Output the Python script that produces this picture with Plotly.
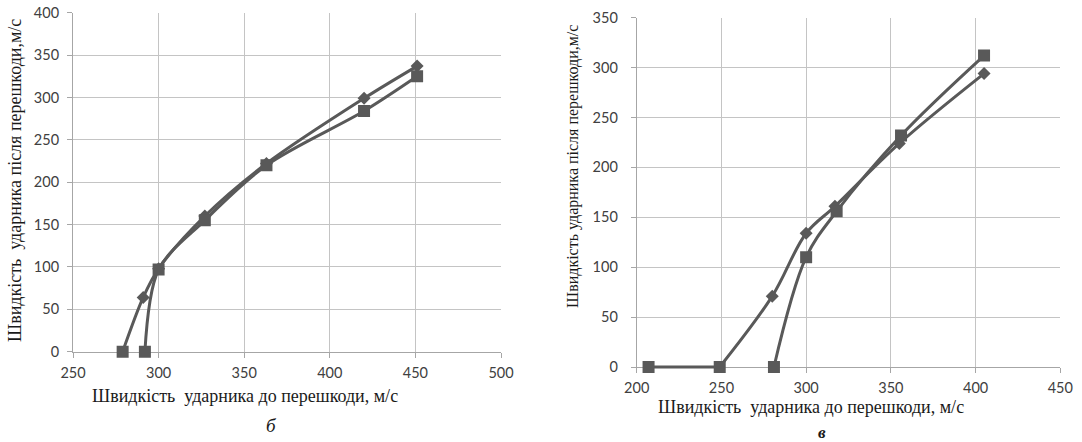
import plotly.graph_objects as go

W, H = 1082, 442

# ---- data: chart "б" (left) ----
b_diamond_x = [279, 291, 300, 327, 363, 420, 451]
b_diamond_y = [0, 64, 98, 160, 222, 299, 337]
b_square_x = [292, 300, 327, 363, 420, 451]
b_square_y = [0, 97, 155, 220, 284, 325]
b_xticks = [250, 300, 350, 400, 450, 500]
b_yticks = [0, 50, 100, 150, 200, 250, 300, 350, 400]

# ---- data: chart "в" (right) ----
v_diamond_x = [207, 249, 280, 300, 317, 355, 405]
v_diamond_y = [0, 0, 71, 134, 161, 224, 294]
v_square_x = [281, 300, 318, 356, 405]
v_square_y = [0, 110, 156, 232, 312]
v_xticks = [200, 250, 300, 350, 400, 450]
v_yticks = [0, 50, 100, 150, 200, 250, 300, 350]

x_title = "Швидкість  ударника до перешкоди, м/с"
y_title_b = "Швидкість  ударника після перешкоди,м/с"
y_title_v = "Швидкість ударника після перешкоди,м/с"

LINE = "#595959"
GRID = "#c4c4c4"
AXIS = "#a6a6a6"
TICKFONT = dict(family="Lato", size=14.5, color="#404040")
SERIF = "Liberation Serif"
EXT = 14  # px of extra drawing room below each plot so markers at 0 are not cut


def px_x(p):
    return p / W


def px_y(p):
    return 1 - p / H


# plot-area pixel boxes (left, right, top, bottom) and data ranges
B_BOX = (73, 501, 12.7, 351.7)
V_BOX = (636.7, 1060.3, 17.7, 367)
B_XR, B_YR = [250, 500], [0, 400]
V_XR, V_YR = [200, 450], [0, 350]

fig = go.Figure()

# empty traces so that the visible axes / grids of both panels are drawn
for xa, ya in (("x", "y"), ("x2", "y2")):
    fig.add_trace(go.Scatter(x=[], y=[], mode="markers", xaxis=xa, yaxis=ya,
                             showlegend=False, hoverinfo="skip"))


def add_series(xs, ys, xa, ya, n_square_first, main_symbol, main_size, smooth):
    start = max(n_square_first - 1, 0)
    if start > 0:
        # flat leading run drawn straight
        fig.add_trace(go.Scatter(
            x=xs[:start + 1], y=ys[:start + 1], mode="lines",
            line=dict(color=LINE, width=3),
            xaxis=xa, yaxis=ya, showlegend=False, hoverinfo="skip"))
    fig.add_trace(go.Scatter(
        x=xs[start:], y=ys[start:], mode="lines",
        line=dict(color=LINE, width=3, shape="spline", smoothing=smooth),
        xaxis=xa, yaxis=ya, showlegend=False, hoverinfo="skip"))
    if n_square_first:
        fig.add_trace(go.Scatter(
            x=xs[:n_square_first], y=ys[:n_square_first], mode="markers",
            marker=dict(symbol="square", size=12, color=LINE, line=dict(width=0)),
            xaxis=xa, yaxis=ya, showlegend=False))
    fig.add_trace(go.Scatter(
        x=xs[n_square_first:], y=ys[n_square_first:], mode="markers",
        marker=dict(symbol=main_symbol, size=main_size, color=LINE, line=dict(width=0)),
        xaxis=xa, yaxis=ya, showlegend=False))


# data traces live on invisible twin axes whose area reaches a bit below y=0
add_series(b_diamond_x, b_diamond_y, "x3", "y3", 1, "diamond", 10, 0.9)
add_series(b_square_x, b_square_y, "x3", "y3", 0, "square", 12, 0.9)
add_series(v_diamond_x, v_diamond_y, "x4", "y4", 2, "diamond", 10, 1.0)
add_series(v_square_x, v_square_y, "x4", "y4", 0, "square", 12, 1.0)

common = dict(showgrid=True, gridcolor=GRID, gridwidth=1, showline=True,
              linecolor=AXIS, linewidth=1, ticks="outside", ticklen=5,
              tickcolor=AXIS, tickfont=TICKFONT, zeroline=False,
              fixedrange=True, automargin=False)


def twin(box, xr, yr, xid, yid):
    l, r, t, b = box
    per_px = (yr[1] - yr[0]) / (b - t)
    xa = dict(domain=[px_x(l), px_x(r)], range=xr, visible=False, anchor=yid,
              fixedrange=True, automargin=False)
    ya = dict(domain=[px_y(b + EXT), px_y(t)], range=[yr[0] - EXT * per_px, yr[1]],
              visible=False, anchor=xid, fixedrange=True, automargin=False)
    return xa, ya


x3, y3 = twin(B_BOX, B_XR, B_YR, "y3", "x3")
x4, y4 = twin(V_BOX, V_XR, V_YR, "y4", "x4")
x3["anchor"], y3["anchor"] = "y3", "x3"
x4["anchor"], y4["anchor"] = "y4", "x4"

fig.update_layout(
    width=W, height=H,
    margin=dict(l=0, r=0, t=0, b=0),
    paper_bgcolor="white", plot_bgcolor="rgba(0,0,0,0)",
    xaxis=dict(domain=[px_x(B_BOX[0]), px_x(B_BOX[1])], range=B_XR,
               tickvals=b_xticks, anchor="y", ticklabelstandoff=3, **common),
    yaxis=dict(domain=[px_y(B_BOX[3]), px_y(B_BOX[2])], range=B_YR,
               tickvals=b_yticks, anchor="x", ticklabelstandoff=5, **common),
    xaxis2=dict(domain=[px_x(V_BOX[0]), px_x(V_BOX[1])], range=V_XR,
                tickvals=v_xticks, anchor="y2", ticklabelstandoff=3, **common),
    yaxis2=dict(domain=[px_y(V_BOX[3]), px_y(V_BOX[2])], range=V_YR,
                tickvals=v_yticks, anchor="x2", ticklabelstandoff=10, **common),
    xaxis3=x3, yaxis3=y3, xaxis4=x4, yaxis4=y4,
)

ann = [
    dict(text=x_title, x=px_x(244.5), y=px_y(396), font=dict(family=SERIF, size=18, color="#1a1a1a")),
    dict(text=y_title_b, x=px_x(15), y=px_y(181), textangle=-90, font=dict(family=SERIF, size=18, color="#1a1a1a")),
    dict(text="<i>б</i>", x=px_x(271), y=px_y(425), font=dict(family=SERIF, size=19, color="#1a1a1a")),
    dict(text=x_title, x=px_x(810.7), y=px_y(407), font=dict(family=SERIF, size=18, color="#1a1a1a")),
    dict(text=y_title_v, x=px_x(573), y=px_y(167), textangle=-90, font=dict(family=SERIF, size=16, color="#1a1a1a")),
    dict(text="<b><i>в</i></b>", x=px_x(821.7), y=px_y(432), font=dict(family=SERIF, size=17, color="#1a1a1a")),
]
for a in ann:
    a.update(xref="paper", yref="paper", showarrow=False, xanchor="center", yanchor="middle")
fig.update_layout(annotations=ann)

fig.write_html("out.html", config={"displayModeBar": False, "staticPlot": True},
               post_script="document.body.style.margin='0px';document.body.style.overflow='hidden';")
